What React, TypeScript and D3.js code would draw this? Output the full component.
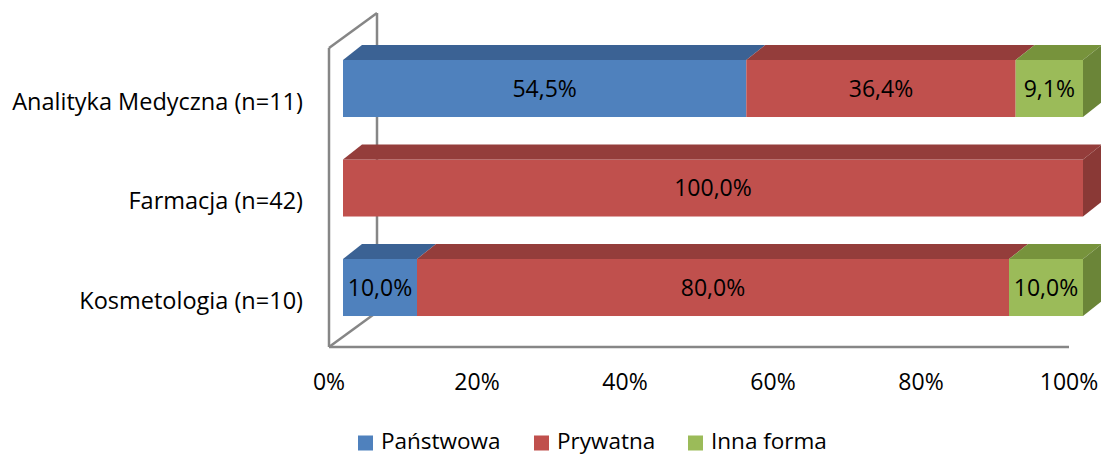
import React from "react";
import * as d3 from "d3";

const categories = ["Analityka Medyczna (n=11)", "Farmacja (n=42)", "Kosmetologia (n=10)"];
const seriesNames = ["Państwowa", "Prywatna", "Inna forma"];
const panstwowa = [54.5, 0, 10.0];
const prywatna = [36.4, 100.0, 80.0];
const innaForma = [9.1, 0, 10.0];
const tickValues = [0, 20, 40, 60, 80, 100];

const frontColors = ["#4F81BD", "#C0504D", "#9BBB59"];
const topColors = ["#3B6294", "#943D3B", "#77933C"];
const sideColors = ["#35587F", "#8A3936", "#6B8538"];

const W = 1101;
const H = 456;
const FONT = "'Open Sans', 'DejaVu Sans', sans-serif";

export default function App() {
  const series = [panstwowa, prywatna, innaForma];
  const data = categories.map((c, i) => ({ cat: c, vals: series.map((s) => s[i]) }));

  const x = d3.scaleLinear().domain([0, 100]).range([343, 1083]);
  const xFloor = d3.scaleLinear().domain([0, 100]).range([329, 1069]);
  const y = d3.scaleBand<string>().domain(categories).range([17.5, 358.5]).padding(0.427);
  const dx = 19;
  const dy = 15;

  const wallX0 = 329;
  const wallX1 = 377;
  const floorY = 347;
  const wallTop = 48;
  const backTop = 13;
  const backBottom = 312;

  const bars: React.ReactNode[] = [];
  data.forEach((d, i) => {
    const y0 = y(d.cat)!;
    const y1 = y0 + y.bandwidth();
    let acc = 0;
    const segs = d.vals
      .map((v, k) => {
        const s = { k, v, a: acc, b: acc + v };
        acc += v;
        return s;
      })
      .filter((s) => s.v > 0);
    segs.forEach((s, j) => {
      const xa = x(s.a);
      const xb = x(s.b);
      const last = j === segs.length - 1;
      bars.push(
        <g key={`b${i}-${s.k}`}>
          <rect x={xa} y={y0} width={xb - xa} height={y1 - y0} fill={frontColors[s.k]} />
          <path
            d={`M${xa},${y0}L${xb},${y0}L${xb + dx},${y0 - dy}L${xa + dx},${y0 - dy}Z`}
            fill={topColors[s.k]}
          />
          {last && (
            <path
              d={`M${xb},${y0}L${xb + dx},${y0 - dy}L${xb + dx},${y1 - dy}L${xb},${y1}Z`}
              fill={sideColors[s.k]}
            />
          )}
          <text
            x={(xa + xb) / 2}
            y={(y0 + y1) / 2}
            dy="0.35em"
            textAnchor="middle"
            fontSize={23}
            fontFamily={FONT}
            fill="#000"
          >
            {s.v.toFixed(1).replace(".", ",") + "%"}
          </text>
        </g>
      );
    });
  });

  const legendX = [358, 534, 688];
  const legendTextX = [381, 557, 711];

  return (
    <svg width={W} height={H} style={{ position: "absolute", left: 0, top: 0 }}>
      <rect width={W} height={H} fill="#fff" />
      {/* walls */}
      <g stroke="#868686" strokeWidth={2.5} fill="none">
        <line x1={wallX0} y1={floorY} x2={wallX0} y2={wallTop} />
        <line x1={wallX0} y1={wallTop} x2={wallX1} y2={backTop} />
        <line x1={wallX1} y1={backTop} x2={wallX1} y2={backBottom} />
        <line x1={wallX0} y1={floorY} x2={wallX1} y2={backBottom} />
        <line x1={wallX0} y1={floorY} x2={xFloor(100)} y2={floorY} />
      </g>
      {bars}
      {/* category labels */}
      {categories.map((c) => (
        <text
          key={c}
          x={303}
          y={y(c)! + y.bandwidth() / 2 + 13}
          dy="0.35em"
          textAnchor="end"
          fontSize={23.5}
          fontFamily={FONT}
          fill="#000"
        >
          {c}
        </text>
      ))}
      {/* x tick labels */}
      {tickValues.map((t) => (
        <text
          key={t}
          x={xFloor(t)}
          y={390}
          textAnchor="middle"
          fontSize={23}
          fontFamily={FONT}
          fill="#000"
        >
          {t + "%"}
        </text>
      ))}
      {/* legend */}
      {seriesNames.map((n, k) => (
        <g key={n}>
          <rect x={legendX[k]} y={435.5} width={15} height={15} fill={frontColors[k]} />
          <text x={legendTextX[k]} y={449} fontSize={22.5} fontFamily={FONT} fill="#000">
            {n}
          </text>
        </g>
      ))}
    </svg>
  );
}
